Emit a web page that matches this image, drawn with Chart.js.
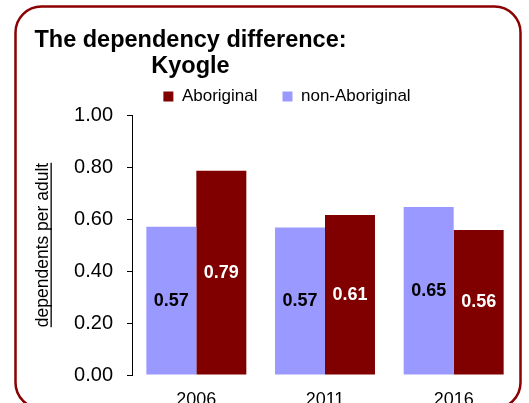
<!DOCTYPE html>
<html>
<head>
<meta charset="utf-8">
<script src="https://cdn.jsdelivr.net/npm/chart.js@4"></script>
<style>
  html, body { margin: 0; padding: 0; background: #fff; }
</style>
</head>
<body>
<canvas id="chart" width="529" height="403"></canvas>
<script>
'use strict';

// chart data
const years = ['2006', '2011', '2016'];
const nonAboriginal = [0.57, 0.567, 0.646];
const aboriginal = [0.786, 0.615, 0.558];
const yTickLabels = ['0.00', '0.20', '0.40', '0.60', '0.80', '1.00'];
const titleLines = ['The dependency difference:', 'Kyogle'];
const yTitle = 'dependents per adult';

const FONT = '"Liberation Sans", Arial, Helvetica, sans-serif';
const RED = '#800000';
const PURPLE = '#9999ff';

// frame, two-line title and underlined y title
const decorations = {
  id: 'decorations',
  beforeDraw(chart) {
    const c = chart.ctx;
    c.save();
    c.strokeStyle = '#8b0000';
    c.lineWidth = 2.5;
    c.beginPath();
    c.roundRect(15.5, 6.5, 505, 402, 26);
    c.stroke();

    c.fillStyle = '#000';
    c.font = 'bold 23.5px ' + FONT;
    c.textAlign = 'center';
    c.textBaseline = 'alphabetic';
    c.fillText(titleLines[0], 190.5, 46.5);
    c.fillText(titleLines[1], 190.5, 73);

    const ys = chart.scales.y;
    const cy = (ys.top + ys.bottom) / 2;
    c.translate(47.5, cy);
    c.rotate(-Math.PI / 2);
    c.font = '17.5px ' + FONT;
    c.fillText(yTitle, 0, 0);
    const w = c.measureText(yTitle).width;
    c.fillRect(-w / 2, 3, w, 1.3);
    c.restore();
  }
};

// values written in the middle of each bar
const barLabels = {
  id: 'barLabels',
  afterDatasetsDraw(chart) {
    const c = chart.ctx;
    c.save();
    c.font = 'bold 18px ' + FONT;
    c.textAlign = 'center';
    c.textBaseline = 'middle';
    chart.data.datasets.forEach((ds, i) => {
      const meta = chart.getDatasetMeta(i);
      meta.data.forEach((bar, j) => {
        c.fillStyle = ds.labelColor;
        c.fillText(ds.data[j].toFixed(2), bar.x, (bar.y + bar.base) / 2);
      });
    });
    c.restore();
  }
};

const ctx = document.getElementById('chart');

new Chart(ctx, {
  type: 'bar',
  data: {
    labels: years,
    datasets: [{
      label: 'non-Aboriginal',
      data: nonAboriginal,
      backgroundColor: PURPLE,
      labelColor: '#000',
      categoryPercentage: 0.777,
      barPercentage: 1
    },
    {
      label: 'Aboriginal',
      data: aboriginal,
      backgroundColor: RED,
      labelColor: '#fff',
      categoryPercentage: 0.777,
      barPercentage: 1
    }]
  },
  options: {
    responsive: false,
    animation: false,
    layout: {
      padding: { left: 56, right: 11, top: 63, bottom: 0 }
    },
    plugins: {
      title: { display: false },
      tooltip: { enabled: false },
      legend: {
        reverse: true,
        labels: {
          boxWidth: 10,
          boxHeight: 10,
          padding: 25,
          color: '#000',
          font: { family: FONT, size: 17 }
        }
      }
    },
    scales: {
      x: {
        grid: { display: false },
        border: { display: false },
        ticks: { color: '#000', padding: 6, font: { family: FONT, size: 18 } },
        afterFit(s) { s.height = 28; }
      },
      y: {
        min: 0,
        max: 1,
        grid: { drawOnChartArea: false, tickLength: 5, color: '#000', tickColor: '#000' },
        border: { display: true, color: '#000', width: 1 },
        ticks: {
          stepSize: 0.1,
          padding: 14,
          color: '#000',
          font: { family: FONT, size: 20 },
          callback(value) {
            const v = Number(value).toFixed(2);
            return yTickLabels.includes(v) ? v : '';
          }
        },
        afterFit(s) { s.width = 76; }
      }
    }
  },
  plugins: [decorations, barLabels]
});
</script>
</body>
</html>
